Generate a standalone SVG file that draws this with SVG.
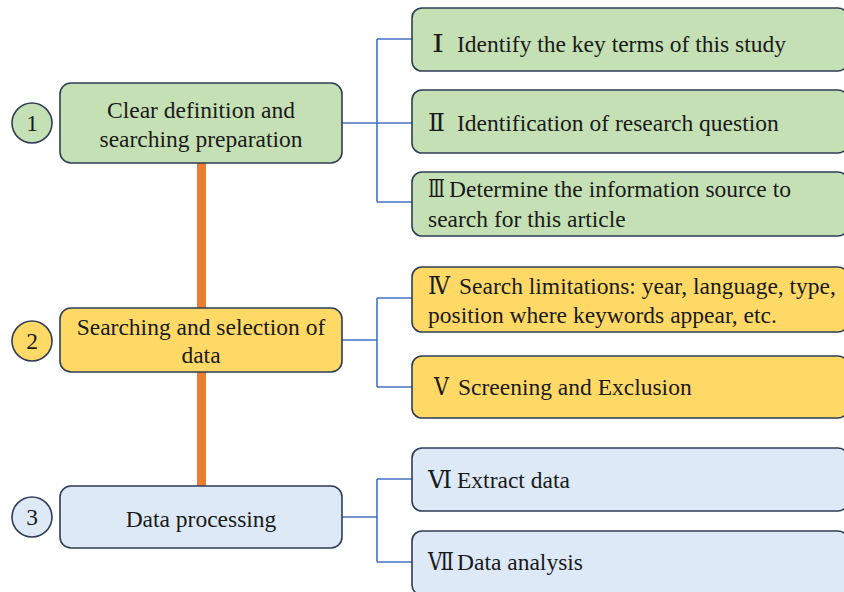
<svg xmlns="http://www.w3.org/2000/svg" width="844" height="592" viewBox="0 0 844 592">
<style>
text{font-family:'Liberation Serif','Times New Roman','DejaVu Serif',serif;font-size:23.5px;fill:#1a1a1a}
.c{text-anchor:middle}
.box{stroke:#2f3d55;stroke-width:1.6}
.g{fill:#c5e0b4}
.y{fill:#ffd966}
.b{fill:#dde9f6}
.br{fill:none;stroke:#4472c4;stroke-width:1.6}
</style>
<rect width="844" height="592" fill="#ffffff"/>
<g id="connectors">
<line x1="201.5" y1="160" x2="201.5" y2="488" stroke="#ed7d31" stroke-width="9"/>
<path class="br" d="M342 123H377M377 39V202M377 39H412M377 123H412M377 202H412"/>
<path class="br" d="M342 340H377M377 298V387M377 298H412M377 387H412"/>
<path class="br" d="M342 517H377M377 479V562M377 479H412M377 562H412"/>
</g>
<g id="step1">
<circle class="box g" cx="32" cy="123" r="20"/>
<text class="c" x="32" y="131">1</text>
<rect class="box g" x="60" y="83" width="282" height="80" rx="11"/>
<text class="c" x="201" y="118">Clear definition and</text>
<text class="c" x="201" y="147">searching preparation</text>
</g>
<g id="step2">
<circle class="box y" cx="32" cy="341" r="20"/>
<text class="c" x="32" y="349">2</text>
<rect class="box y" x="60" y="308" width="282" height="64" rx="11"/>
<text class="c" x="201" y="335">Searching and selection of</text>
<text class="c" x="201" y="363">data</text>
</g>
<g id="step3">
<circle class="box b" cx="32" cy="517" r="20"/>
<text class="c" x="32" y="525">3</text>
<rect class="box b" x="60" y="486" width="282" height="62" rx="11"/>
<text class="c" x="201" y="527">Data processing</text>
</g>
<g id="item1">
<rect class="box g" x="412" y="8" width="436" height="63" rx="10"/>
<text x="432" y="52" textLength="12" lengthAdjust="spacingAndGlyphs">Ⅰ</text>
<text x="457" y="52">Identify the key terms of this study</text>
</g>
<g id="item2">
<rect class="box g" x="412" y="90" width="436" height="63" rx="10"/>
<text x="428" y="131" textLength="17" lengthAdjust="spacingAndGlyphs">Ⅱ</text>
<text x="457" y="131">Identification of research question</text>
</g>
<g id="item3">
<rect class="box g" x="412" y="172" width="436" height="64" rx="10"/>
<text x="428" y="197" textLength="17" lengthAdjust="spacingAndGlyphs">Ⅲ</text>
<text x="449" y="197">Determine the information source to</text>
<text x="428" y="227">search for this article</text>
</g>
<g id="item4">
<rect class="box y" x="412" y="267" width="436" height="65" rx="10"/>
<text x="428" y="294" textLength="22" lengthAdjust="spacingAndGlyphs">Ⅳ</text>
<text x="459" y="294">Search limitations: year, language, type,</text>
<text x="428" y="323">position where keywords appear, etc.</text>
</g>
<g id="item5">
<rect class="box y" x="412" y="356" width="436" height="62" rx="10"/>
<text x="434" y="395" textLength="15" lengthAdjust="spacingAndGlyphs">Ⅴ</text>
<text x="458" y="395">Screening and Exclusion</text>
</g>
<g id="item6">
<rect class="box b" x="412" y="448" width="436" height="63" rx="10"/>
<text x="428" y="488" textLength="24" lengthAdjust="spacingAndGlyphs">Ⅵ</text>
<text x="457" y="488">Extract data</text>
</g>
<g id="item7">
<rect class="box b" x="412" y="531" width="436" height="64" rx="10"/>
<text x="428" y="570" textLength="26" lengthAdjust="spacingAndGlyphs">Ⅶ</text>
<text x="457" y="570">Data analysis</text>
</g>
</svg>
